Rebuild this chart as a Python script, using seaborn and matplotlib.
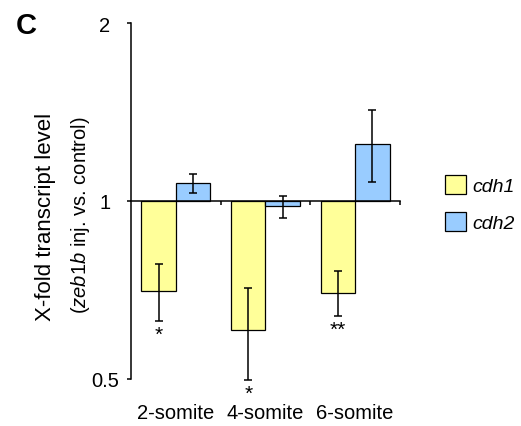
import numpy as np
import pandas as pd
import matplotlib
matplotlib.use("Agg")
import matplotlib.pyplot as plt
from matplotlib.patches import Patch
import seaborn as sns

# Fold change of transcript level (zeb1b injected vs. control) with SEM
stages = ["2-somite", "4-somite", "6-somite"]
genes = ["cdh1", "cdh2"]
cdh1_fold = [0.704, 0.606, 0.700]
cdh1_sem = [0.077, 0.107, 0.060]
cdh2_fold = [1.073, 0.979, 1.250]
cdh2_sem = [0.040, 0.042, 0.175]
significance = ["*", "*", "**"]
gene_colors = ["#FFFF99", "#99CCFF"]
y_ticks = [0.5, 1, 2]

sns.set_style("ticks")
plt.rcParams["font.family"] = ["Liberation Sans", "DejaVu Sans"]
plt.rcParams["mathtext.fontset"] = "custom"
plt.rcParams["mathtext.rm"] = "Liberation Sans"
plt.rcParams["mathtext.it"] = "Liberation Sans:italic"
for key in ["text.color", "axes.labelcolor", "xtick.color", "ytick.color",
            "axes.edgecolor"]:
    plt.rcParams[key] = "black"

df = pd.DataFrame({
    "stage": stages * 2,
    "gene": [genes[0]] * 3 + [genes[1]] * 3,
    "fold": cdh1_fold + cdh2_fold,
    "sem": cdh1_sem + cdh2_sem,
})
# bars grow from a fold change of 1 on a log2 axis
df["log2_fold"] = np.log2(df["fold"])

fig = plt.figure(figsize=(5.21, 4.27), dpi=100)
ax = fig.add_axes([131 / 521, 1 - 380 / 427, 269 / 521, 356 / 427])

sns.barplot(data=df, x="stage", y="log2_fold", hue="gene", order=stages,
            hue_order=genes, palette=gene_colors, saturation=1, width=0.77,
            edgecolor="black", linewidth=0.9, errorbar=None, legend=False, ax=ax)

for container, gene in zip(ax.containers, genes):
    sub = df[df["gene"] == gene].set_index("stage").loc[stages]
    xs = np.array([b.get_x() + b.get_width() / 2 for b in container])
    y = np.log2(sub["fold"].values)
    lo = np.log2((sub["fold"] - sub["sem"]).values)
    hi = np.log2((sub["fold"] + sub["sem"]).values)
    ax.errorbar(xs, y, yerr=[y - lo, hi - y], fmt="none", ecolor="black",
                elinewidth=1.1, capsize=2.6, capthick=1.1, zorder=3, clip_on=False)
    if gene == "cdh1":
        for x, l, s in zip(xs, lo, significance):
            ax.annotate(s, xy=(x, l), xytext=(0, -3), textcoords="offset points",
                        ha="center", va="top", fontsize=15, annotation_clip=False)

ax.set_xlim(-0.5, 2.5)
ax.set_ylim(-1, 1)
ax.spines[["top", "right"]].set_visible(False)
ax.spines["bottom"].set_position(("data", 0))
for s in ax.spines.values():
    s.set_linewidth(1.1)
ax.set_xticks([0.5, 1.5, 2.5])
ax.set_xticklabels([])
ax.tick_params(axis="x", direction="out", length=3, width=1.1, bottom=True)
ax.set_yticks(np.log2(y_ticks))
ax.set_yticklabels([f"{t:g}" for t in y_ticks], ha="center")
ax.tick_params(axis="y", direction="out", length=3.2, width=1.1, pad=15.5,
               labelsize=14.5, left=True)
ax.set_xlabel("")
ax.set_ylabel("")

for i, st in enumerate(stages):
    ax.text(i, -0.095, st, transform=ax.get_xaxis_transform(),
            ha="center", va="center", fontsize=14.5)

fig.text(46 / 521, 1 - 217 / 427, "X-fold transcript level", rotation=90,
         ha="center", va="center", fontsize=16)
fig.text(81 / 521, 1 - 215 / 427, r"(${\it zeb1b}$ inj. vs. control)", rotation=90,
         ha="center", va="center", fontsize=14.5)
fig.text(26 / 521, 1 - 26 / 427, "C", fontsize=21, fontweight="bold",
         ha="center", va="center")

handles = [Patch(facecolor=c, edgecolor="black", linewidth=0.9) for c in gene_colors]
fig.legend(handles, genes, loc="upper left", bbox_to_anchor=(445 / 521, 1 - 176 / 427),
           frameon=False, prop={"style": "italic", "size": 14}, handlelength=1.1,
           handleheight=1.1, handletextpad=0.3, labelspacing=0.9, borderpad=0,
           borderaxespad=0)

fig.savefig("out.png", dpi=100)
